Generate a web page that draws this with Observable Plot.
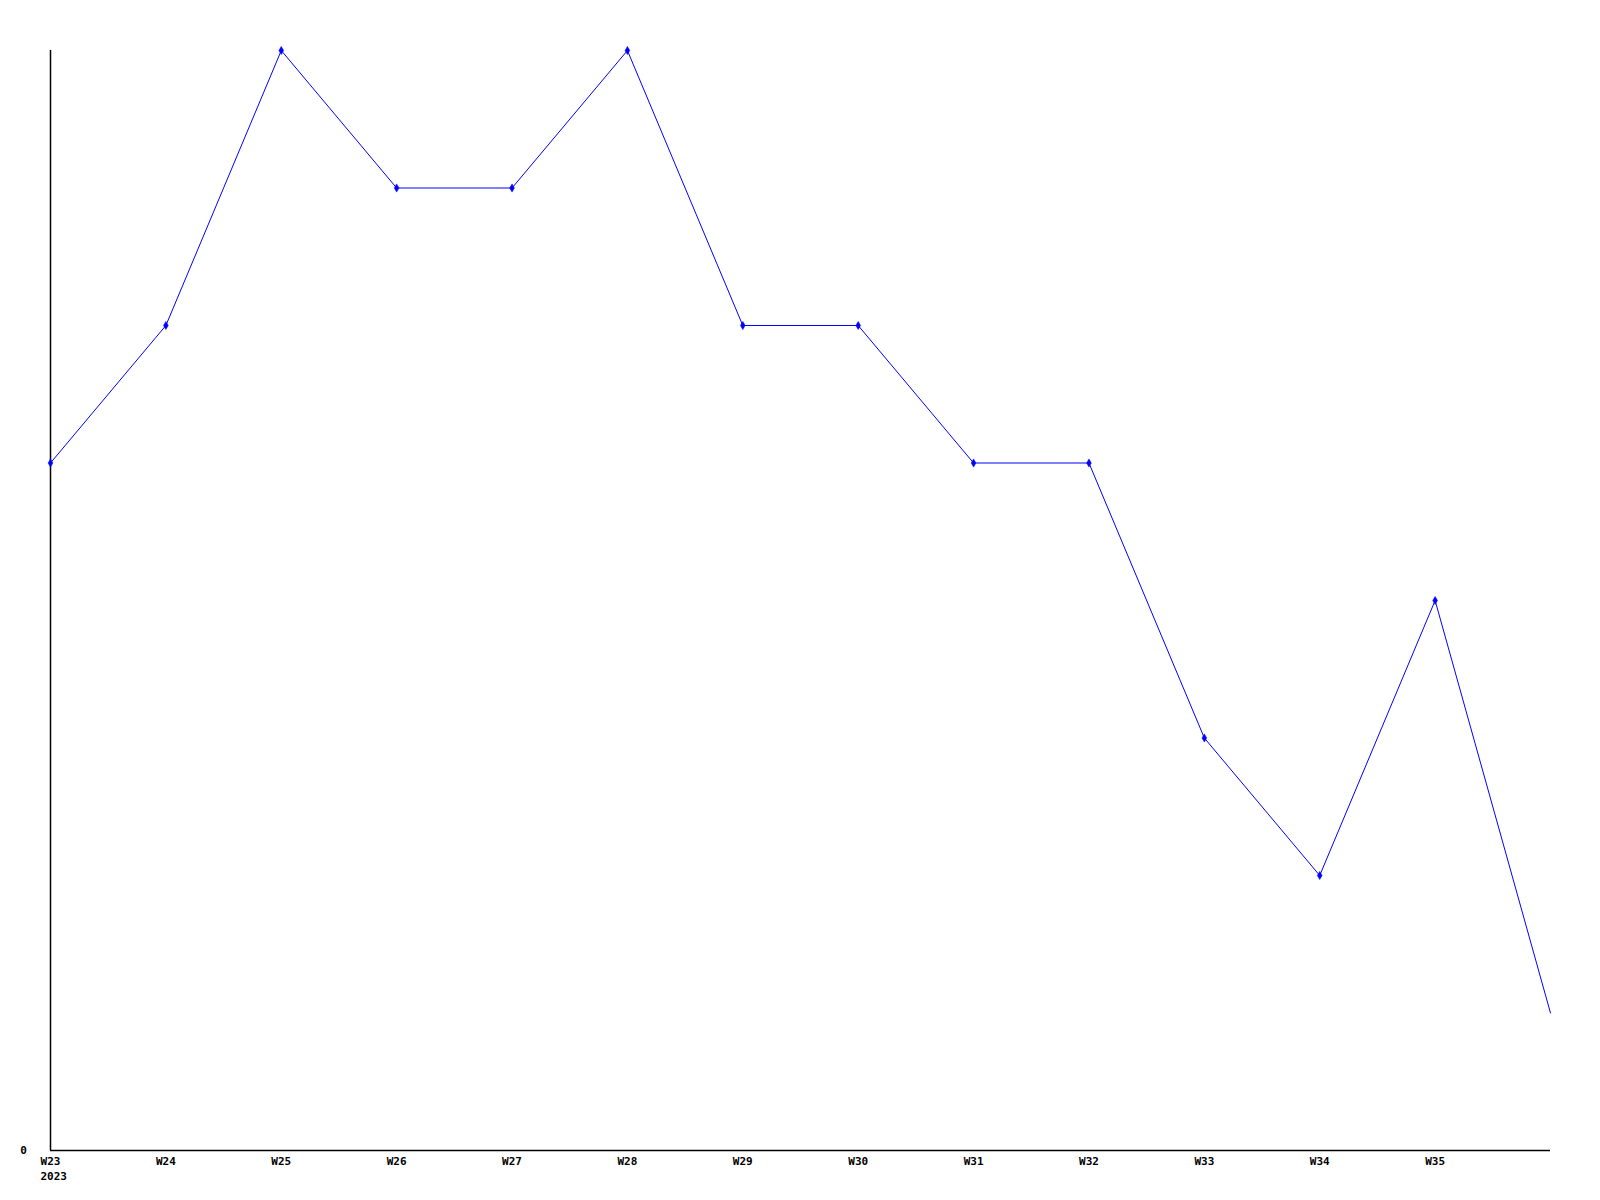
<!DOCTYPE html>
<html>
<head>
<meta charset="utf-8">
<script src="https://cdn.jsdelivr.net/npm/d3@7"></script>
<script src="https://cdn.jsdelivr.net/npm/@observablehq/plot@0.6"></script>
<style>
  html, body { margin: 0; padding: 0; background: #fff; }
  #chart svg { display: block; }
</style>
</head>
<body>
<div id="chart"></div>
<script>
const weeks = [23, 24, 25, 26, 27, 28, 29, 30, 31, 32, 33, 34, 35, 36];
const values = [5, 6, 8, 7, 7, 8, 6, 6, 5, 5, 3, 2, 4, 1];
const tickWeeks = [23, 24, 25, 26, 27, 28, 29, 30, 31, 32, 33, 34, 35];
const yearLabel = "2023";
const yTicks = [0];

const data = weeks.map((w, i) => ({week: w, value: values[i]}));
const markerData = data.slice(0, -1);

const chart = Plot.plot({
  width: 1600,
  height: 1200,
  marginLeft: 50,
  marginRight: 50,
  marginTop: 50,
  marginBottom: 50,
  style: {fontFamily: "'DejaVu Sans Mono', monospace", fontSize: "11px", fontWeight: "bold", background: "#fff"},
  x: {domain: [23, 36]},
  y: {domain: [0, 8]},
  marks: [
    Plot.axisX({
      ticks: tickWeeks,
      tickSize: 0,
      tickPadding: 7,
      tickFormat: (d) => `W${d}`,
      label: null,
      fill: "#000"
    }),
    Plot.text([{week: tickWeeks[0], label: yearLabel}], {
      x: "week",
      y: 0,
      text: "label",
      textAnchor: "start",
      lineAnchor: "top",
      dx: -10,
      dy: 22,
      fill: "#000"
    }),
    Plot.axisY({
      ticks: yTicks,
      tickSize: 0,
      tickPadding: 27,
      label: null,
      textAnchor: "middle",
      fill: "#000"
    }),
    Plot.ruleX([23], {stroke: "#000", strokeWidth: 1.5}),
    Plot.ruleY([0], {stroke: "#000", strokeWidth: 1.5}),
    Plot.line(data, {x: "week", y: "value", stroke: "#0000ff", strokeWidth: 1}),
    Plot.dot(markerData, {x: "week", y: "value", symbol: "diamond", r: 2.5, fill: "#0000ff", stroke: "#0000ff", strokeWidth: 0.5})
  ]
});
document.getElementById("chart").appendChild(chart);
</script>
</body>
</html>
